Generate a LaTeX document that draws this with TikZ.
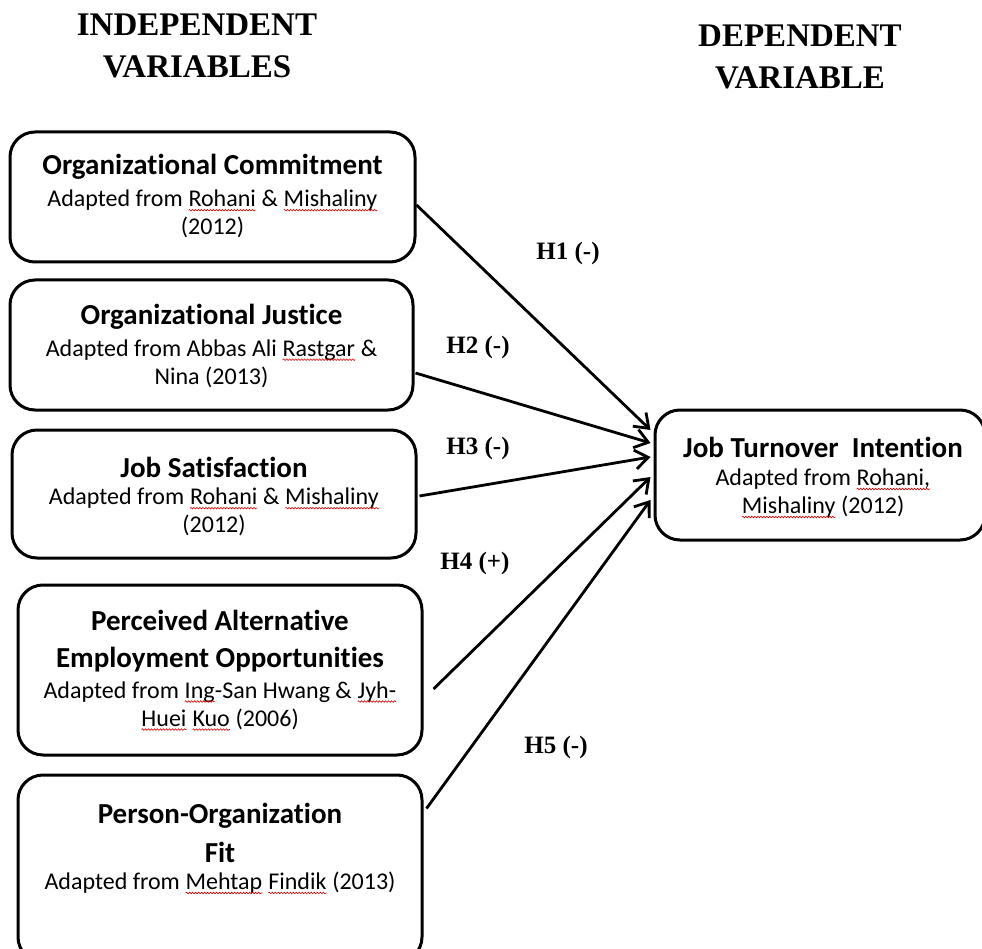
\documentclass[tikz,border=0pt]{standalone}
\usepackage{fontspec}
\setmainfont{Carlito}[Ligatures=NoCommon]
\newfontfamily\hfont{Liberation Serif}
\usetikzlibrary{arrows.meta,calc,decorations.pathmorphing}
\newcommand\spw[1]{\tikz[baseline=(w.base)]{\node[inner sep=0pt,outer sep=0pt] (w) {#1};\draw[red!85!black, line width=0.6pt, decorate, decoration={snake,amplitude=0.8pt,segment length=3pt}] ([yshift=-3.5pt]w.base west) -- ([yshift=-3.5pt]w.base east);}}
\tikzset{
  vbox/.style={draw, line width=3pt, rounded corners=25pt, inner sep=0pt},
  ttl/.style={font=\bfseries\fontsize{29}{37}\selectfont, align=center, inner sep=0pt},
  sub/.style={font=\fontsize{24}{28}\selectfont, align=center, inner sep=0pt},
  hyp/.style={font=\hfont\bfseries\fontsize{25}{30}\selectfont, inner sep=0pt},
  hdr/.style={font=\hfont\bfseries\fontsize{33}{42}\selectfont, align=center, inner sep=0pt},
  link/.style={line width=2.8pt, -{Straight Barb[length=13pt,width=19pt]}}
}
\begin{document}
\begin{tikzpicture}[x=1pt,y=-1pt]
\useasboundingbox (0,0) rectangle (982,949);
% headers
\node[hdr] (hind) at (197,46) {INDEPENDENT\\VARIABLES};
\node[hdr] (hdep) at (800,57) {DEPENDENT\\VARIABLE};
% boxes
\node[vbox, minimum width=405pt, minimum height=130pt] (b1) at (212.5,197) {};
\node[vbox, minimum width=403pt, minimum height=130pt] (b2) at (211.5,345) {};
\node[vbox, minimum width=404pt, minimum height=128pt] (b3) at (214,494) {};
\node[vbox, minimum width=404pt, minimum height=170pt] (b4) at (220,670) {};
\node[vbox, minimum width=404pt, minimum height=187pt] (b5) at (220,868.5) {};
\node[vbox, minimum width=330pt, minimum height=130pt] (tg) at (820,475) {};
% texts
\node[ttl] (t1) at (212.5,167) {Organizational Commitment};
\node[sub] (s1) at (212.5,214) {Adapted from \spw{Rohani} \& \spw{Mishaliny}\\(2012)};
\node[ttl] (t2) at (211.5,317) {Organizational Justice};
\node[sub] (s2) at (211.5,363.5) {Adapted from Abbas Ali \spw{Rastgar} \&\\Nina (2013)};
\node[ttl] (t3) at (214,467) {Job Satisfaction};
\node[sub] (s3) at (214,512) {Adapted from \spw{Rohani} \& \spw{Mishaliny}\\(2012)};
\node[ttl] (t4) at (220,641.5) {Perceived Alternative\\Employment Opportunities};
\node[sub] (s4) at (220,706) {Adapted from \spw{Ing}-San Hwang \& \spw{Jyh-}\\\spw{Huei} \spw{Kuo} (2006)};
\node[ttl, font=\bfseries\fontsize{29}{39}\selectfont] (t5) at (220,832.5) {Person-Organization\\Fit};
\node[sub] (s5) at (220,883) {Adapted from \spw{Mehtap} \spw{Findik} (2013)};
\node[ttl] (tt) at (823,447) {Job Turnover\ \ Intention};
\node[sub] (st) at (823,493.5) {Adapted from \spw{Rohani,}\\\spw{Mishaliny} (2012)};
% connectors
\draw[link] ($(b1.east)+(0,8)$) -- ($(tg.west)+(-3,-45)$);
\draw[link] ($(b2.east)+(1,28)$) -- ($(tg.west)+(-3,-32)$);
\draw[link] ($(b3.east)+(2,2)$) -- ($(tg.west)+(-3,-18)$);
\draw[link] ($(b4.east)+(10,19)$) -- ($(tg.west)+(-3,2)$);
\draw[link] ($(b5.east)+(3,-60)$) -- ($(tg.west)+(-3,25)$);
% hypothesis labels
\node[hyp] (h1) at (568,253) {H1 (-)};
\node[hyp] (h2) at (478,347) {H2 (-)};
\node[hyp] (h3) at (478,448) {H3 (-)};
\node[hyp] (h4) at (475,563) {H4 (+)};
\node[hyp] (h5) at (556,747) {H5 (-)};
\end{tikzpicture}
\end{document}
